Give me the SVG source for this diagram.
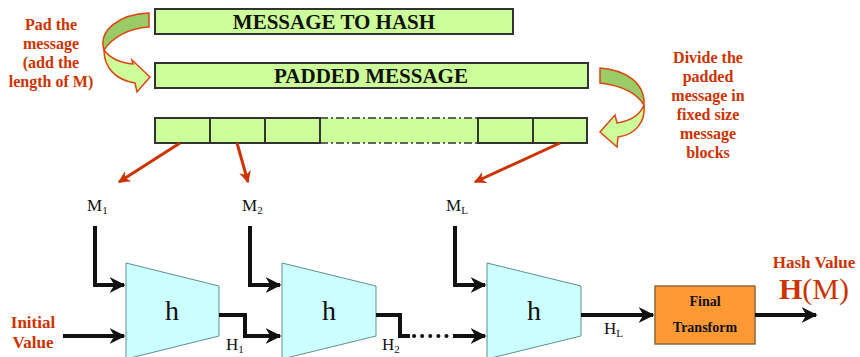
<svg xmlns="http://www.w3.org/2000/svg" width="860" height="357" viewBox="0 0 860 357">
<style>
.box{fill:#CCFF99;stroke:#333333;stroke-width:2}
.trap{fill:#CCFFFF;stroke:#5F8F8F;stroke-width:1}
.note{font-family:"Liberation Serif",serif;font-weight:bold;font-size:16px;fill:#CC3300;text-anchor:middle}
.big{font-size:17px}
.title{font-family:"Liberation Serif",serif;font-weight:bold;font-size:21px;fill:#111;text-anchor:middle}
.lbl{font-family:"Liberation Serif",serif;font-size:17px;fill:#111}
.sub{font-size:11px}
.h{font-family:"Liberation Serif",serif;font-size:28px;fill:#111;text-anchor:middle}
.ft{font-family:"Liberation Serif",serif;font-weight:bold;font-size:14px;fill:#111;text-anchor:middle}
.blk{stroke:#111;stroke-width:4;fill:none}
.red{stroke:#CC3300;stroke-width:3;fill:none}
.dark{fill:#99CC66;stroke:#DD4411;stroke-width:1.5}
.light{fill:#CCFF99;stroke:#DD4411;stroke-width:1.5}
</style>
<defs>
<marker id="ab" viewBox="0 0 10 10" refX="9" refY="5" markerWidth="4" markerHeight="4" orient="auto" markerUnits="strokeWidth">
<path d="M0,0 L10,5 L0,10 L3,5 Z" fill="#111"/>
</marker>
<marker id="ar" viewBox="0 0 10 10" refX="9" refY="5" markerWidth="4" markerHeight="4" orient="auto" markerUnits="strokeWidth">
<path d="M0,0 L10,5 L0,10 L3,5 Z" fill="#CC3300"/>
</marker>
</defs>

<g id="msg">
<rect class="box" x="155" y="9" width="358" height="25"/>
<text class="title" x="334" y="29">MESSAGE TO HASH</text>
</g>
<g id="padded">
<rect class="box" x="155" y="63" width="433" height="25"/>
<text class="title" x="371" y="83">PADDED MESSAGE</text>
</g>
<g id="blocks">
<rect x="155" y="118" width="432" height="25" fill="#CCFF99"/>
<rect class="box" x="155" y="118" width="55" height="25"/>
<rect class="box" x="210" y="118" width="55" height="25"/>
<rect class="box" x="265" y="118" width="55" height="25"/>
<path d="M320,118 H478 M320,143 H478" stroke="#333" stroke-width="1.5" stroke-dasharray="8,3,2,3" fill="none"/>
<rect class="box" x="478" y="118" width="55" height="25"/>
<rect class="box" x="533" y="118" width="54" height="25"/>
</g>

<g id="padnote">
<path class="dark" d="M149,13 C120,14 98,30 104,50 C112,38 128,28 149,27 Z"/>
<path class="light" d="M104,50 C104,68 116,80 135,83 L137,92 L150,77 L132,60 L133,64 C120,63 110,58 104,50 Z"/>
<text class="note" x="51" y="30">Pad the</text>
<text class="note" x="51" y="49">message</text>
<text class="note" x="51" y="68">(add the</text>
<text class="note" x="51" y="87">length of M)</text>
</g>
<g id="dividenote">
<path class="dark" d="M600,68 C625,70 645,82 644,105 C638,95 625,86 600,83 Z"/>
<path class="light" d="M644,105 C646,122 635,135 618,137 L617,147 L600,132 L615,115 L617,123 C630,121 640,115 644,105 Z"/>
<text class="note" x="708" y="63">Divide the</text>
<text class="note" x="708" y="82">padded</text>
<text class="note" x="708" y="101">message in</text>
<text class="note" x="708" y="120">fixed size</text>
<text class="note" x="708" y="139">message</text>
<text class="note" x="708" y="158">blocks</text>
</g>

<g id="h1">
<path class="trap" d="M126,263 L219,286 L219,336 L126,359 Z"/>
<text class="h" x="172" y="320">h</text>
</g>
<g id="h2">
<path class="trap" d="M282,263 L376,286 L376,336 L282,359 Z"/>
<text class="h" x="329" y="320">h</text>
</g>
<g id="hL">
<path class="trap" d="M487,263 L581,286 L581,336 L487,359 Z"/>
<text class="h" x="534" y="320">h</text>
</g>
<g id="final">
<rect x="655" y="286" width="100" height="58" fill="#FF9933" stroke="#8A6A3A" stroke-width="1.5"/>
<text class="ft" x="705" y="306">Final</text>
<text class="ft" x="705" y="332">Transform</text>
</g>

<g id="labels">
<text class="lbl" x="87" y="211">M<tspan class="sub" dy="3">1</tspan></text>
<text class="lbl" x="242" y="211">M<tspan class="sub" dy="3">2</tspan></text>
<text class="lbl" x="446" y="211">M<tspan class="sub" dy="3">L</tspan></text>
<text class="lbl" x="226" y="350">H<tspan class="sub" dy="3">1</tspan></text>
<text class="lbl" x="382" y="350">H<tspan class="sub" dy="3">2</tspan></text>
<text class="lbl" x="604" y="334">H<tspan class="sub" dy="3">L</tspan></text>
<text class="note big" x="33" y="328">Initial</text>
<text class="note big" x="33" y="348">Value</text>
<text class="note big" x="814" y="268">Hash Value</text>
<text x="814" y="299" font-family="Liberation Serif,serif" font-size="30" fill="#CC3300" text-anchor="middle"><tspan font-weight="bold">H</tspan>(M)</text>
</g>

<g id="connectors">
<path class="red" d="M180,143 L119,182" marker-end="url(#ar)"/>
<path class="red" d="M237,143 L248,182" marker-end="url(#ar)"/>
<path class="red" d="M560,143 L475,182" marker-end="url(#ar)"/>
<path class="blk" d="M95,226 V285 H124" marker-end="url(#ab)"/>
<path class="blk" d="M250,226 V285 H280" marker-end="url(#ab)"/>
<path class="blk" d="M455,226 V285 H485" marker-end="url(#ab)"/>
<path class="blk" d="M63,336 H124" marker-end="url(#ab)"/>
<path class="blk" d="M219,315 H245 V336 H280" marker-end="url(#ab)"/>
<path class="blk" d="M376,315 H400 V336 H410"/>
<path d="M414,336 H450" stroke="#111" stroke-width="4" stroke-dasharray="0.1,8" stroke-linecap="round"/>
<path class="blk" d="M453,336 H485" marker-end="url(#ab)"/>
<path class="blk" d="M581,315 H653" marker-end="url(#ab)"/>
<path class="blk" d="M755,315 H816" marker-end="url(#ab)"/>
</g>
</svg>
